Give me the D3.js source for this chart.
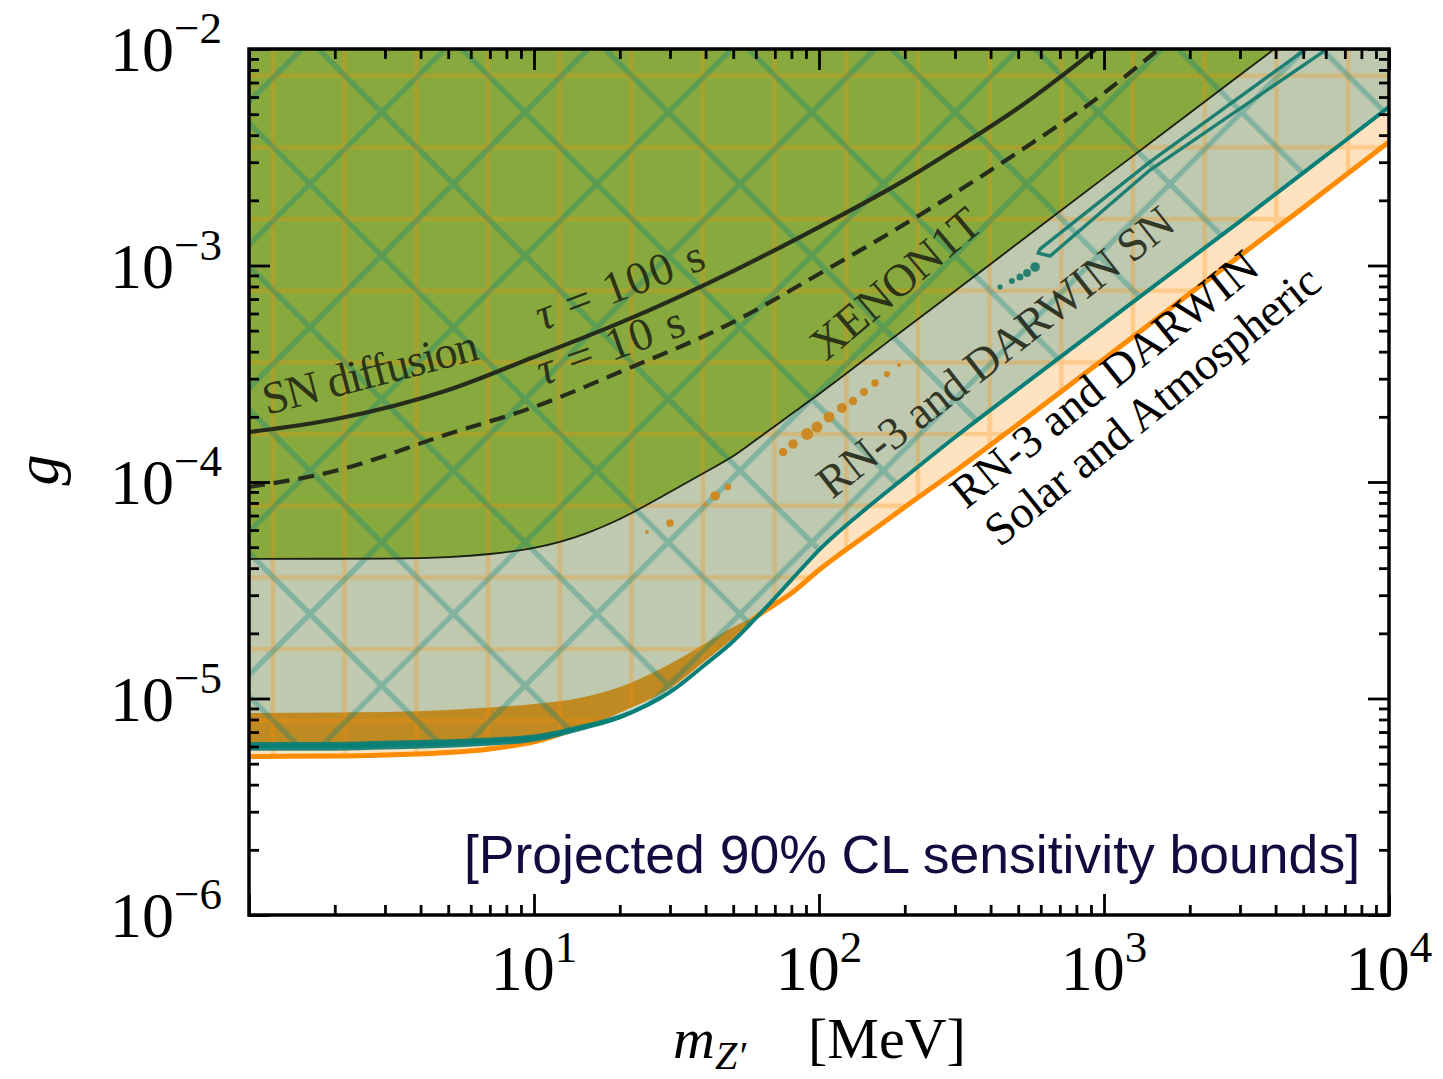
<!DOCTYPE html>
<html>
<head>
<meta charset="utf-8">
<title>Z' coupling sensitivity</title>
<script src="https://cdn.jsdelivr.net/npm/d3@7/dist/d3.min.js"></script>
<style>
  html, body { margin: 0; padding: 0; background: #ffffff; }
  svg { display: block; }
</style>
</head>
<body>
<svg id="chart" width="1443" height="1079"></svg>
<script>
// ---------- data: Z' mass m [MeV] and coupling g ----------

// RN-3 and DARWIN, solar + atmospheric: lower edge of the reach
const orangeMass = [1, 2, 3, 5, 7, 10, 15, 20, 30, 40, 50, 60, 70, 80, 100, 150, 200, 300, 500, 1000, 2000, 3000, 5000, 7000, 10000];
const orangeG = [5.40e-6, 5.42e-6, 5.48e-6, 5.63e-6, 5.85e-6, 6.30e-6, 7.54e-6, 8.85e-6, 1.15e-5, 1.55e-5, 1.96e-5, 2.38e-5, 2.72e-5, 3.06e-5, 3.92e-5, 5.81e-5, 7.66e-5, 1.12e-4, 1.85e-4, 3.70e-4, 7.42e-4, 1.11e-3, 1.85e-3, 2.60e-3, 3.72e-3];

// spread of the solar + atmospheric bound at low mass
const bandMass = [1, 2, 3, 5, 7, 10, 15, 20, 30, 40, 50, 60];
const bandUpperG = [8.57e-6, 8.62e-6, 8.66e-6, 8.85e-6, 9.09e-6, 9.43e-6, 1.016e-5, 1.13e-5, 1.443e-5, 1.80e-5, 2.14e-5, 2.40e-5];
const bandLowerG = [6.00e-6, 6.00e-6, 6.10e-6, 6.20e-6, 6.30e-6, 6.50e-6, 7.35e-6, 8.62e-6, 1.12e-5, 1.51e-5, 1.91e-5, 2.40e-5];

// RN-3 and DARWIN, supernova neutrinos
const tealMass = [1, 2, 3, 5, 7, 10, 15, 20, 30, 40, 50, 60, 70, 80, 100, 150, 200, 300, 500, 1000, 2000, 3000, 5000, 7000, 10000];
const tealG = [6.03e-6, 6.03e-6, 6.10e-6, 6.20e-6, 6.33e-6, 6.57e-6, 7.39e-6, 8.21e-6, 1.07e-5, 1.44e-5, 1.84e-5, 2.35e-5, 2.91e-5, 3.53e-5, 4.85e-5, 7.74e-5, 1.05e-4, 1.61e-4, 2.69e-4, 5.37e-4, 1.07e-3, 1.60e-3, 2.68e-3, 3.76e-3, 5.40e-3];
const tealBandMass = [1, 2, 3, 5, 7, 10, 15, 20, 30];
const tealBandUpperG = [6.30e-6, 6.30e-6, 6.38e-6, 6.48e-6, 6.60e-6, 6.82e-6, 7.62e-6, 8.43e-6, 1.09e-5];
const tealBandLowerG = [5.74e-6, 5.74e-6, 5.81e-6, 5.92e-6, 6.06e-6, 6.32e-6, 7.16e-6, 8.00e-6, 1.05e-5];

// narrow island of the supernova contour (closed outline)
const islandMass = [587, 596, 1450, 4951, 6240, 7296, 5867, 1450, 647];
const islandG = [1.14e-3, 1.19e-3, 3.01e-3, 9.69e-3, 1.224e-2, 1.20e-2, 9.69e-3, 2.76e-3, 1.106e-3];

// small detached contour fragments
const tealSpotMass = [432, 475, 507, 537, 573];
const tealSpotG = [7.96e-4, 8.48e-4, 8.85e-4, 9.23e-4, 9.84e-4];
const orangeSpotMass = [24.9, 30.0, 39.8, 43.2, 47.9, 74.8, 81.0, 90.8, 98.4, 108.4, 120.4, 131.6, 143.8, 157.2, 173.2, 190.9];
const orangeSpotG = [5.87e-5, 6.46e-5, 7.91e-5, 8.62e-5, 9.48e-5, 1.376e-4, 1.497e-4, 1.666e-4, 1.795e-4, 1.996e-4, 2.197e-4, 2.366e-4, 2.603e-4, 2.866e-4, 3.153e-4, 3.47e-4];

// XENON1T exclusion, lower edge
const xenonMass = [1, 2, 3, 5, 7, 10, 15, 20, 30, 40, 50, 60, 80, 100, 150, 200, 300, 500, 1000, 2000, 3000, 4000];
const xenonG = [4.41e-5, 4.42e-5, 4.43e-5, 4.50e-5, 4.65e-5, 4.96e-5, 5.75e-5, 6.75e-5, 8.99e-5, 1.112e-4, 1.318e-4, 1.563e-4, 2.06e-4, 2.55e-4, 3.82e-4, 5.09e-4, 7.62e-4, 1.27e-3, 2.54e-3, 5.06e-3, 7.58e-3, 1.01e-2];

// SN diffusion time contours
const sn100Mass = [1, 2, 5, 10, 20, 50, 100, 200, 300, 500, 900, 1000];
const sn100G = [1.70e-4, 1.95e-4, 2.66e-4, 3.78e-4, 5.43e-4, 9.43e-4, 1.505e-3, 2.48e-3, 3.45e-3, 5.34e-3, 9.58e-3, 1.07e-2];
const sn10Mass = [1, 2, 5, 10, 20, 50, 100, 200, 300, 500, 1000, 1600];
const sn10G = [9.48e-5, 1.124e-4, 1.666e-4, 2.22e-4, 3.22e-4, 5.48e-4, 9.14e-4, 1.554e-3, 2.16e-3, 3.34e-3, 6.26e-3, 1.03e-2];

// tick labels (powers of ten)
const xTickExponents = [1, 2, 3, 4];
const yTickExponents = [-6, -5, -4, -3, -2];

// in-plot labels: text, baseline start and end as (m, g)
const labelTexts = ["SN diffusion", "τ = 100 s", "τ = 10 s", "XENON1T", "RN-3 and DARWIN SN", "RN-3 and DARWIN", "Solar and Atmospheric"];
const labelStart = [[1.157, 2.04e-4], [10.67, 4.98e-4], [10.75, 2.78e-4], [105.8, 3.58e-4], [111.1, 8.26e-5], [327.9, 7.42e-5], [431.7, 4.96e-5]];
const labelEnd = [[6.52, 3.70e-4], [40.8, 9.74e-4], [34.7, 4.83e-4], [382.3, 1.49e-3], [1818, 1.49e-3], [3584, 9.33e-4], [5914, 7.96e-4]];

// ---------- drawing ----------
const SERIF = "'Liberation Serif', 'Times New Roman', serif";
const SANS = "'Liberation Sans', Arial, sans-serif";

const svg = d3.select("#chart");
const x = d3.scaleLog().domain([1, 1e4]).range([249, 1389]);
const y = d3.scaleLog().domain([1e-6, 1e-2]).range([915, 49]);
const [xl, xr] = x.range();
const [yb, yt] = y.range();

const pts = (ms, gs) => ms.map((m, i) => ({ m, g: gs[i] }));
const orangePts = pts(orangeMass, orangeG);
const tealPts = pts(tealMass, tealG);
const xenonPts = pts(xenonMass, xenonG);

const defs = svg.append("defs");
defs.append("clipPath").attr("id", "plotClip")
  .append("rect").attr("x", xl).attr("y", yt).attr("width", xr - xl).attr("height", yb - yt);

// "+" hatch for the solar/atmospheric region
const gs = 71.67;
defs.append("pattern").attr("id", "plusHatch").attr("patternUnits", "userSpaceOnUse")
  .attr("x", 273).attr("y", 75.7).attr("width", gs).attr("height", gs)
  .append("path")
  .attr("d", `M0,-5V${gs + 5}M${gs},-5V${gs + 5}M-5,0H${gs + 5}M-5,${gs}H${gs + 5}`)
  .attr("stroke", "#ff8c00").attr("stroke-width", 4.6).attr("fill", "none");

// "x" hatch for the supernova region
const xs = 143.33;
let xd = "";
for (const k of [-1, 0, 1]) {
  xd += `M${k * xs - 20},-20L${k * xs + xs + 20},${xs + 20}`;
  xd += `M${k * xs - 20},${xs + 20}L${k * xs + xs + 20},-20`;
}
defs.append("pattern").attr("id", "crossHatch").attr("patternUnits", "userSpaceOnUse")
  .attr("x", 381.7).attr("y", 112.3).attr("width", xs).attr("height", xs)
  .append("path").attr("d", xd)
  .attr("stroke", "#008080").attr("stroke-width", 5.4).attr("fill", "none");

const plot = svg.append("g").attr("clip-path", "url(#plotClip)");

const areaAbove = d3.area()
  .x(d => x(d.m)).y0(y(1e-2)).y1(d => y(d.g))
  .curve(d3.curveMonotoneX);
const lineGen = d3.line().x(d => x(d.m)).y(d => y(d.g)).curve(d3.curveMonotoneX);
const bandGen = d3.area()
  .x(d => x(d.m)).y0(d => y(d.lo)).y1(d => y(d.hi))
  .curve(d3.curveMonotoneX);

// region fills
plot.append("path").attr("d", areaAbove(orangePts))
  .attr("fill", "#ff8c00").attr("fill-opacity", 0.25);
plot.append("path").attr("d", areaAbove(tealPts))
  .attr("fill", "#008080").attr("fill-opacity", 0.25);
plot.append("path").attr("d", areaAbove(xenonPts))
  .attr("fill", "#87a93e");

// solar/atmospheric edge and its low-mass spread
plot.append("path").attr("d", lineGen(orangePts))
  .attr("fill", "none").attr("stroke", "#ff8c00").attr("stroke-width", 5);
plot.append("path")
  .attr("d", bandGen(bandMass.map((m, i) => ({ m, lo: bandLowerG[i], hi: bandUpperG[i] }))))
  .attr("fill", "#c08a22");

// hatches
plot.append("path").attr("d", areaAbove(orangePts))
  .attr("fill", "url(#plusHatch)").attr("opacity", 0.28);
plot.append("path").attr("d", areaAbove(tealPts))
  .attr("fill", "url(#crossHatch)").attr("opacity", 0.32);

// supernova edge
plot.append("path")
  .attr("d", bandGen(tealBandMass.map((m, i) => ({ m, lo: tealBandLowerG[i], hi: tealBandUpperG[i] }))))
  .attr("fill", "#0a7f78").attr("fill-opacity", 0.92);
plot.append("path").attr("d", lineGen(tealPts))
  .attr("fill", "none").attr("stroke", "#0a7f78").attr("stroke-width", 4);

// island and detached fragments
plot.append("path")
  .attr("d", d3.line().x(d => x(d.m)).y(d => y(d.g)).curve(d3.curveLinearClosed)(pts(islandMass, islandG)))
  .attr("fill", "none").attr("stroke", "#1d7f72").attr("stroke-width", 3.4)
  .attr("stroke-linejoin", "round");

const tealSpotR = [2.6, 3.0, 3.5, 4.0, 4.8];
plot.selectAll("circle.tspot").data(pts(tealSpotMass, tealSpotG)).join("circle")
  .attr("class", "tspot")
  .attr("cx", d => x(d.m)).attr("cy", d => y(d.g)).attr("r", (d, i) => tealSpotR[i])
  .attr("fill", "#2a8070");

const orangeSpotR = [2.0, 3.8, 1.8, 4.8, 3.3, 4.3, 4.8, 6.0, 5.5, 5.5, 5.0, 4.3, 4.0, 3.8, 3.1, 2.0];
plot.selectAll("circle.ospot").data(pts(orangeSpotMass, orangeSpotG)).join("circle")
  .attr("class", "ospot")
  .attr("cx", d => x(d.m)).attr("cy", d => y(d.g)).attr("r", (d, i) => orangeSpotR[i])
  .attr("fill", "#cc8a26");

// XENON1T edge
plot.append("path").attr("d", lineGen(xenonPts))
  .attr("fill", "none").attr("stroke", "#1b1f12").attr("stroke-width", 1.8);

// SN diffusion contours
plot.append("path").attr("d", lineGen(pts(sn100Mass, sn100G)))
  .attr("fill", "none").attr("stroke", "#262b1c").attr("stroke-width", 4.2);
plot.append("path").attr("d", lineGen(pts(sn10Mass, sn10G)))
  .attr("fill", "none").attr("stroke", "#262b1c").attr("stroke-width", 4.2)
  .attr("stroke-dasharray", "16,9");

// in-plot labels
const labelInk = ["#1e2414", "#1e2414", "#1e2414", "#1e2414", "#1e2414", "#000", "#000"];
labelTexts.forEach((txt, i) => {
  const sx = x(labelStart[i][0]), sy = y(labelStart[i][1]);
  const ex = x(labelEnd[i][0]), ey = y(labelEnd[i][1]);
  const ang = Math.atan2(ey - sy, ex - sx) * 180 / Math.PI;
  const len = Math.hypot(ex - sx, ey - sy);
  const t = svg.append("text")
    .attr("transform", `translate(${sx},${sy}) rotate(${ang})`)
    .attr("font-family", SERIF).attr("font-size", 46)
    .attr("fill", labelInk[i]).attr("fill-opacity", i < 5 ? 0.9 : 1)
    .attr("textLength", len).attr("lengthAdjust", "spacing");
  if (txt.startsWith("τ")) {
    t.append("tspan").attr("font-style", "italic").text("τ");
    t.append("tspan").text(txt.slice(1));
  } else {
    t.text(txt);
  }
});

// note text
svg.append("text")
  .attr("x", 1360).attr("y", 873)
  .attr("text-anchor", "end")
  .attr("font-family", SANS).attr("font-size", 53.5)
  .attr("fill", "#130b40")
  .text("[Projected 90% CL sensitivity bounds]");

// ---------- axes ----------
const decadesX = [1, 10, 100, 1000];
const decadesY = [1e-6, 1e-5, 1e-4, 1e-3];
const minorX = decadesX.flatMap(d => d3.range(2, 10).map(k => k * d));
const minorY = decadesY.flatMap(d => d3.range(2, 10).map(k => k * d));
const majorX = xTickExponents.map(e => Math.pow(10, e)).concat([1]);
const majorY = yTickExponents.map(e => Math.pow(10, e));

function styleAxis(g) {
  g.select(".domain").remove();
  g.selectAll(".tick line").attr("stroke", "#000").attr("stroke-width", 2.8);
  g.selectAll(".tick text").remove();
}
const axes = [
  [d3.axisBottom, x, `translate(0,${yb})`, true],
  [d3.axisTop, x, `translate(0,${yt})`, true],
  [d3.axisLeft, y, `translate(${xl},0)`, false],
  [d3.axisRight, y, `translate(${xr},0)`, false]
];
axes.forEach(([fn, sc, tr, isX]) => {
  svg.append("g").attr("transform", tr)
    .call(fn(sc).tickValues(isX ? minorX : minorY).tickSize(-10).tickFormat(""))
    .call(styleAxis);
  svg.append("g").attr("transform", tr)
    .call(fn(sc).tickValues(isX ? majorX : majorY).tickSize(-21).tickFormat(""))
    .call(styleAxis);
});

// frame
svg.append("rect")
  .attr("x", xl).attr("y", yt).attr("width", xr - xl).attr("height", yb - yt)
  .attr("fill", "none").attr("stroke", "#000").attr("stroke-width", 3.5);

// tick labels as 10^n
const expText = e => (e < 0 ? "\u2212" + Math.abs(e) : String(e));
xTickExponents.forEach(e => {
  const t = svg.append("text")
    .attr("x", x(Math.pow(10, e))).attr("y", yb + 75)
    .attr("text-anchor", "middle")
    .attr("font-family", SERIF).attr("font-size", 64).attr("fill", "#000");
  t.append("tspan").text("10");
  t.append("tspan").attr("font-size", 45).attr("dy", -28).text(expText(e));
});
yTickExponents.forEach(e => {
  const t = svg.append("text")
    .attr("x", 222).attr("y", y(Math.pow(10, e)) + 22)
    .attr("text-anchor", "end")
    .attr("font-family", SERIF).attr("font-size", 64).attr("fill", "#000");
  t.append("tspan").text("10");
  t.append("tspan").attr("font-size", 45).attr("dy", -28).text(expText(e));
});

// axis titles
const titleSize = 58;
const mt = svg.append("text").attr("x", 673).attr("y", 1058)
  .attr("font-family", SERIF).attr("font-size", titleSize).attr("fill", "#000");
mt.append("tspan").attr("font-style", "italic").text("m");
mt.append("tspan").attr("font-style", "italic").attr("font-size", 40).attr("dy", 11).text("Z\u2032");
svg.append("text").attr("x", 808).attr("y", 1058)
  .attr("font-family", SERIF).attr("font-size", titleSize).attr("fill", "#000")
  .text("[MeV]");

svg.append("text")
  .attr("transform", `translate(58,${(yt + yb) / 2 - 12}) rotate(-90)`)
  .attr("text-anchor", "middle")
  .attr("font-family", SERIF).attr("font-size", 62).attr("font-style", "italic")
  .attr("fill", "#000")
  .text("g");
</script>
</body>
</html>
